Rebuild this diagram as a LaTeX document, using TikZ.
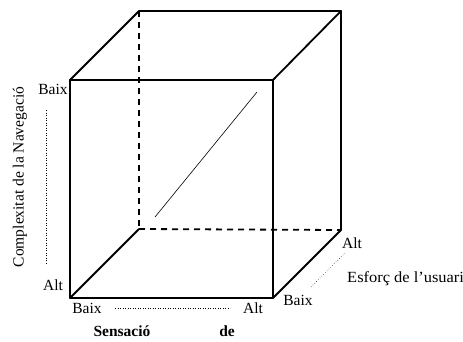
\documentclass[tikz,border=0pt]{standalone}
\usepackage{fontspec}
\setmainfont{Liberation Serif}
\begin{document}
\begin{tikzpicture}[x=1pt,y=-1pt,
  edge/.style={line width=1.8pt, line cap=round, line join=round},
  hidden/.style={line width=1.8pt, dash pattern=on 6pt off 5pt},
  guide/.style={line width=0.5pt, dotted},
  lbl/.style={font=\fontsize{15.5}{18}\selectfont, inner sep=0pt},
  blbl/.style={font=\fontsize{15.5}{18}\selectfont\bfseries, inner sep=0pt}]
\useasboundingbox (0,0) rectangle (463,341);
% cube corners
\coordinate (ftl) at (70,80);
\coordinate (ftr) at (273,80);
\coordinate (fbl) at (70,298);
\coordinate (fbr) at (273,298);
\coordinate (btl) at (139,11);
\coordinate (btr) at (341,11);
\coordinate (bbl) at (139,229);
\coordinate (bbr) at (341,230);
% hidden edges
\draw[hidden] (btl) -- (bbl);
\draw[hidden] (bbl) -- (bbr);
% visible edges
\draw[edge] (ftl) -- (ftr) -- (fbr) -- (fbl) -- cycle;
\draw[edge] (ftl) -- (btl) -- (btr) -- (ftr);
\draw[edge] (btr) -- (bbr) -- (fbr);
\draw[edge] (fbl) -- (bbl);
% diagonal
\coordinate (d1) at (155,217);
\coordinate (d2) at (257,92);
\draw[line width=0.6pt] (d1) -- (d2);
% guides
\coordinate (g1a) at (46,110);
\coordinate (g1b) at (46,263);
\draw[guide] (g1a) -- (g1b);
\coordinate (g2a) at (115,308);
\coordinate (g2b) at (230,308);
\draw[guide] (g2a) -- (g2b);
\coordinate (g3a) at (345,253);
\coordinate (g3b) at (310,288);
\draw[guide] (g3a) -- (g3b);
% labels
\node[lbl] (vb) at (53,89) {Baix};
\node[lbl] (va) at (53,285) {Alt};
\node[lbl, rotate=90] (vt) at (20,177) {Complexitat de la Navegació};
\node[lbl] (hb) at (87,308) {Baix};
\node[lbl] (ha) at (253,308) {Alt};
\node[blbl] (hs) at (122,331) {Sensació};
\node[blbl] (hd) at (227,331) {de};
\node[lbl] (da) at (352,243) {Alt};
\node[lbl] (db) at (298,300) {Baix};
\node[lbl, anchor=west, xscale=1.06] (de) at (347,279) {Esforç de l'usuari};
\end{tikzpicture}
\end{document}
